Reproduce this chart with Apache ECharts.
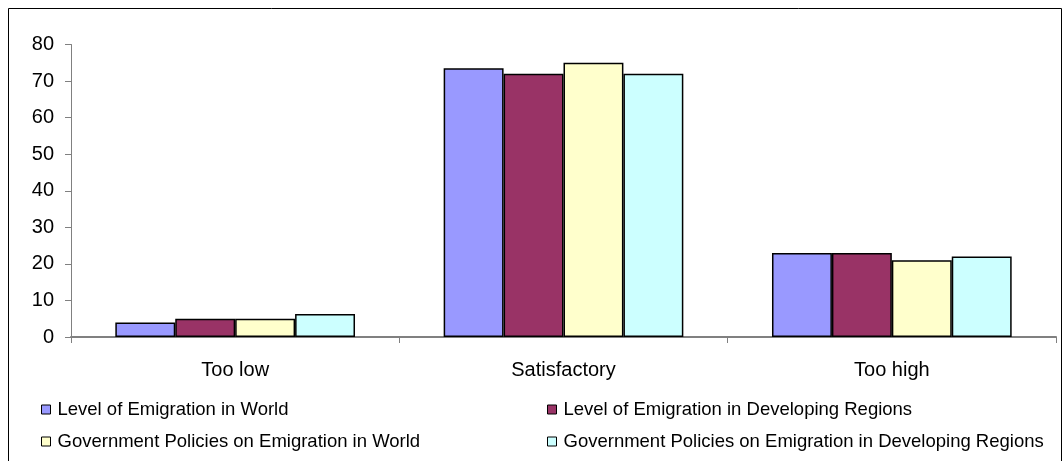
<!DOCTYPE html>
<html>
<head>
<meta charset="utf-8">
<script src="https://cdn.jsdelivr.net/npm/echarts@6/dist/echarts.min.js"></script>
<style>
  html, body { margin: 0; padding: 0; background: #ffffff; }
  #chart { width: 1064px; height: 461px; }
</style>
</head>
<body>
<div id="chart"></div>
<script>
// Categories and series values
const categories = ['Too low', 'Satisfactory', 'Too high'];
const seriesNames = [
  'Level of Emigration in World',
  'Level of Emigration in Developing Regions',
  'Government Policies on Emigration in World',
  'Government Policies on Emigration in Developing Regions'
];
const levelWorld = [4, 73.5, 23];
const levelDeveloping = [5, 72, 23];
const policiesWorld = [5, 75, 21];
const policiesDeveloping = [6.3, 72, 22];
const yTicks = [0, 10, 20, 30, 40, 50, 60, 70, 80];

const colors = ['#9999ff', '#993366', '#ffffcc', '#ccffff'];
const values = [levelWorld, levelDeveloping, policiesWorld, policiesDeveloping];

const font = '"Liberation Sans", Arial, sans-serif';

const chart = echarts.init(document.getElementById('chart'), null, { renderer: 'canvas' });

const series = seriesNames.map((name, i) => ({
  name: name,
  type: 'bar',
  data: values[i],
  barGap: '0%',
  barCategoryGap: '27%',
  itemStyle: { color: colors[i], borderColor: '#000000', borderWidth: 1.5 },
  emphasis: { disabled: true }
}));

const legendStyle = {
  orient: 'vertical',
  itemWidth: 9,
  itemHeight: 9,
  itemGap: 13,
  icon: 'rect',
  textStyle: { fontFamily: font, fontSize: 18.5, color: '#000000', padding: [0, 0, 0, 2] },
  itemStyle: { borderColor: '#000000', borderWidth: 1 }
};

chart.setOption({
  animation: false,
  backgroundColor: '#ffffff',
  graphic: [{
    type: 'rect',
    shape: { x: 8.5, y: 8.5, width: 1053, height: 460 },
    style: { fill: 'none', stroke: '#000000', lineWidth: 1 },
    silent: true
  }],
  legend: [
    Object.assign({ left: 36, top: 395, data: [seriesNames[0], seriesNames[2]] }, legendStyle),
    Object.assign({ left: 542, top: 395, data: [seriesNames[1], seriesNames[3]] }, legendStyle)
  ],
  grid: { left: 71, right: 8, top: 44.5, height: 292.5, containLabel: false },
  xAxis: {
    type: 'category',
    data: categories,
    axisLine: { lineStyle: { color: '#808080', width: 2 } },
    axisTick: { show: true, alignWithLabel: false, length: 6, lineStyle: { color: '#808080', width: 1 } },
    axisLabel: { fontFamily: font, fontSize: 20, color: '#000000', margin: 23 },
    splitLine: { show: false }
  },
  yAxis: {
    type: 'value',
    min: yTicks[0],
    max: yTicks[yTicks.length - 1],
    interval: 10,
    axisLine: { show: true, lineStyle: { color: '#808080', width: 1 } },
    axisTick: { show: true, length: 6, lineStyle: { color: '#808080' } },
    axisLabel: { fontFamily: font, fontSize: 20, color: '#000000', margin: 17 },
    splitLine: { show: false }
  },
  series: series
});
</script>
</body>
</html>
